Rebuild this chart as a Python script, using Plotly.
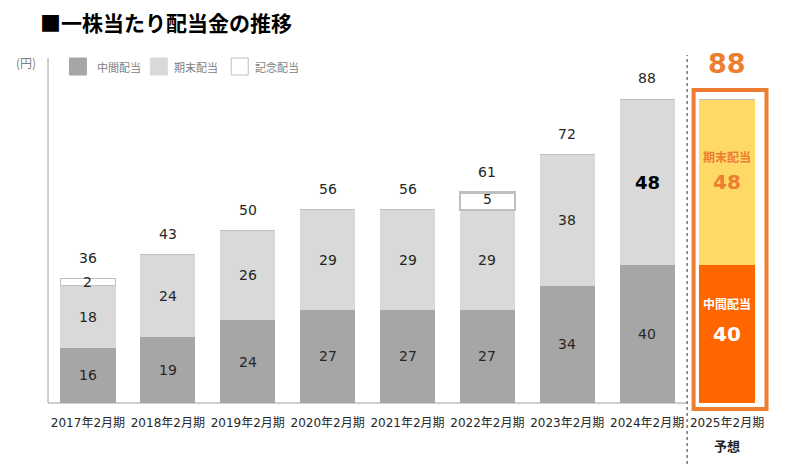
import plotly.graph_objects as go

categories = ["2017年2月期", "2018年2月期", "2019年2月期", "2020年2月期", "2021年2月期",
              "2022年2月期", "2023年2月期", "2024年2月期", "2025年2月期"]
interim = [16, 19, 24, 27, 27, 27, 34, 40, 40]
year_end = [18, 24, 26, 29, 29, 29, 38, 48, 48]
commemorative = [2, 0, 0, 0, 0, 5, 0, 0, 0]
totals = [36, 43, 50, 56, 56, 61, 72, 88, 88]

FONT = "DejaVu Sans, Noto Sans CJK JP, sans-serif"
JP = "Noto Sans CJK JP, sans-serif"
GRAY_D = "#A6A6A6"
GRAY_L = "#D9D9D9"
ORANGE = "#FF6600"
YELLOW = "#FFD966"
BOX = "#ED7D31"

OFF = 8  # page body margin
W, H = 800 - OFF, 464 - OFF
L, T = 47.5 - OFF, 58 - OFF
PW, PH = 720, 345
R, B = W - L - PW, H - T - PH

def px(x):
    return (x - OFF - L) / PW

def py(y):
    return (T + PH - (y - OFF)) / PH

n = len(categories)
xs = list(range(n))
fc = n - 1  # forecast index

fig = go.Figure()
fig.add_bar(x=xs, y=interim, width=0.69, name="中間配当",
            marker=dict(color=[GRAY_D] * fc + [ORANGE], line=dict(width=0)), showlegend=False,
            hoverinfo="skip")
fig.add_bar(x=xs, y=year_end, width=0.69, name="期末配当",
            marker=dict(color=[GRAY_L] * fc + [YELLOW], line=dict(width=0)), showlegend=False,
            hoverinfo="skip")
fig.add_bar(x=xs, y=commemorative, width=0.69, name="記念配当",
            marker=dict(color="white", line=dict(color="#BFBFBF",
                        width=[1 if v < 3 else 2.5 for v in commemorative])),
            showlegend=False, hoverinfo="skip")

ann = []
for i in range(n):
    a, b, c = interim[i], year_end[i], commemorative[i]
    if i == fc:
        ann.append(dict(x=i, y=a / 2, text="<b>%d</b>" % a, showarrow=False,
                        font=dict(family=FONT, size=20, color="white")))
        ann.append(dict(x=i, y=a / 2, yshift=31, text="<b>中間配当</b>", showarrow=False,
                        font=dict(family=JP, size=12, color="white")))
        ann.append(dict(x=i, y=a + b / 2, text="<b>%d</b>" % b, showarrow=False,
                        font=dict(family=FONT, size=20, color=BOX)))
        ann.append(dict(x=i, y=a + b / 2, yshift=26, text="<b>期末配当</b>", showarrow=False,
                        font=dict(family=JP, size=12, color=BOX)))
        continue
    ann.append(dict(x=i, y=a / 2, text=str(a), showarrow=False,
                    font=dict(family=FONT, size=14, color="#262626")))
    if i == fc - 1:
        ann.append(dict(x=i, y=a + b / 2, text="<b>%d</b>" % b, showarrow=False,
                        font=dict(family=FONT, size=18, color="#000000")))
    else:
        ann.append(dict(x=i, y=a + b / 2, text=str(b), showarrow=False,
                        font=dict(family=FONT, size=14, color="#262626")))
    if c:
        ann.append(dict(x=i, y=a + b + c / 2, yshift=2 if c > 3 else 0, text=str(c), showarrow=False,
                        font=dict(family=FONT, size=14, color="#262626")))
    ann.append(dict(x=i, y=totals[i], yshift=21, text=str(totals[i]), showarrow=False,
                    font=dict(family=FONT, size=14, color="#262626")))

# forecast total
ann.append(dict(x=fc, y=totals[fc], yshift=36, text="<b>%d</b>" % totals[fc], showarrow=False,
                font=dict(family=FONT, size=27, color=BOX)))
ann.append(dict(x=fc, xref="x", y=py(445), yref="paper", yanchor="middle", text="<b>予想</b>",
                showarrow=False, font=dict(family=JP, size=13, color="#262626")))

# title
ann.append(dict(x=px(37), y=py(22), xref="paper", yref="paper", xanchor="left", yanchor="middle",
                text="<b>■一株当たり配当金の推移</b>", showarrow=False,
                font=dict(family=JP, size=21, color="#000000")))

# unit & legend
ann.append(dict(x=px(25), y=py(63), xref="paper", yref="paper", xanchor="center",
                yanchor="middle", text="(円)", showarrow=False,
                font=dict(family=JP, size=12, color="#7F7F7F")))
legend_items = [("中間配当", GRAY_D, None, 69, 95), ("期末配当", GRAY_L, None, 150, 172),
                ("記念配当", "white", "#BFBFBF", 231, 253)]
shapes = []
for name, col, lc, x0, tx in legend_items:
    shapes.append(dict(type="rect", xref="paper", yref="paper", x0=px(x0), x1=px(x0 + 17),
                       y0=py(75), y1=py(58), fillcolor=col,
                       line=dict(color=lc or col, width=1)))
    ann.append(dict(x=px(tx), y=py(66.5), xref="paper", yref="paper", xanchor="left",
                    yanchor="middle", text=name, showarrow=False,
                    font=dict(family=JP, size=11, color="#808080")))

# axes lines
shapes.append(dict(type="line", xref="paper", yref="paper", x0=0, x1=0, y0=0, y1=1,
                   line=dict(color="#A0A0A0", width=1)))
shapes.append(dict(type="line", xref="x", yref="paper", x0=-0.5, x1=fc - 0.5, y0=0, y1=0,
                   line=dict(color="#A0A0A0", width=1.2)))
# forecast divider
shapes.append(dict(type="line", xref="x", yref="paper", x0=fc - 0.5, x1=fc - 0.5,
                   y0=py(464), y1=py(55), line=dict(color="#333333", width=1, dash="dot")))
# forecast box
shapes.append(dict(type="rect", xref="paper", yref="paper", x0=px(694), x1=px(767),
                   y0=py(409), y1=py(90), line=dict(color=BOX, width=4)))

fig.update_layout(
    barmode="stack",
    width=W, height=H,
    margin=dict(l=L, r=R, t=T, b=B, autoexpand=False),
    paper_bgcolor="white", plot_bgcolor="white",
    xaxis=dict(range=[-0.5, n - 0.5], tickmode="array", tickvals=xs, ticktext=categories,
               showgrid=False, zeroline=False, showline=False, ticks="",
               ticklabelstandoff=11,
               tickfont=dict(family=FONT, size=12, color="#262626"), fixedrange=True),
    yaxis=dict(range=[0, 100], showgrid=False, zeroline=False, showline=False,
               showticklabels=False, ticks="", fixedrange=True),
    annotations=ann,
    shapes=shapes,
    showlegend=False,
)

fig.write_html("out.html")
